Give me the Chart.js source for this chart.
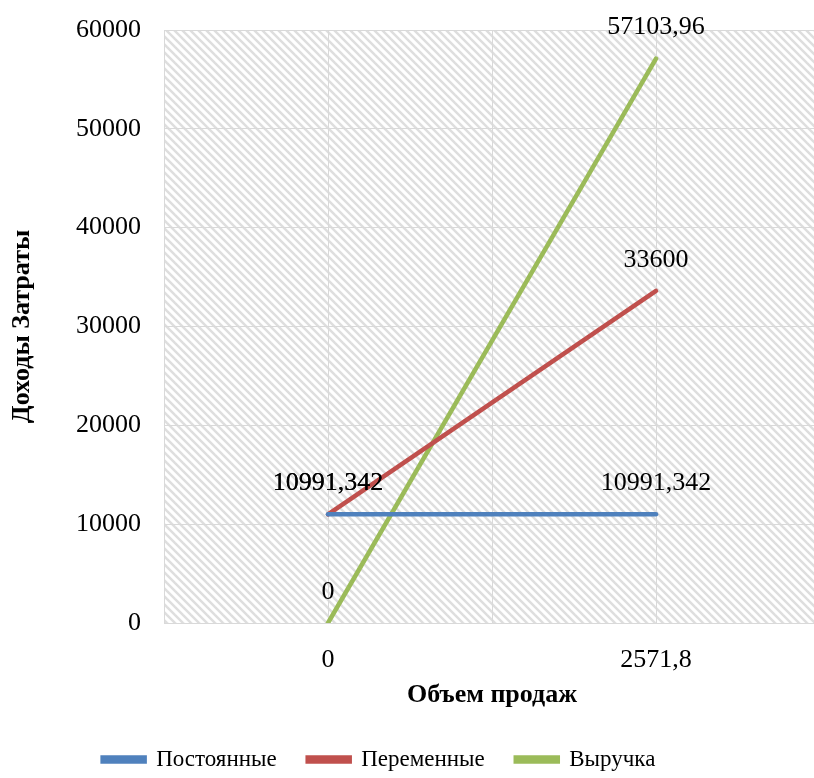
<!DOCTYPE html>
<html>
<head>
<meta charset="utf-8">
<script src="https://cdn.jsdelivr.net/npm/chart.js@4.4.1/dist/chart.umd.min.js"></script>
<style>
  html, body { margin: 0; padding: 0; background: #fff; overflow: hidden; }
  #wrap { width: 814px; height: 778px; overflow: hidden; }
</style>
</head>
<body>
<div id="wrap"><canvas id="c" width="820" height="778"></canvas></div>
<script>
// Break-even data: sales volume vs. costs and revenue
const salesVolume   = [0, 2571.8];
const fixedCosts    = [10991.342, 10991.342];
const variableCosts = [10991.342, 33600];
const revenue       = [0, 57103.96];

const seriesNames  = ['Постоянные', 'Переменные', 'Выручка'];
const seriesColors = ['#4f81bd', '#c0504d', '#9bbb59'];

const xTickValues = [-1285.9, 0, 1285.9, 2571.8, 3857.7];
const xTickLabels = ['', '0', '', '2571,8', ''];
const yTickValues = [0, 10000, 20000, 30000, 40000, 50000, 60000];

const FONT = "'Liberation Serif', 'Times New Roman', serif";

const toPoints = ys => salesVolume.map((x, i) => ({ x: x, y: ys[i] }));
const fmt = v => String(v).replace('.', ',');

// Diagonal hatch fill for the plot area
function makeHatch() {
  const t = document.createElement('canvas');
  t.width = 8; t.height = 8;
  const g = t.getContext('2d');
  g.fillStyle = '#ffffff';
  g.fillRect(0, 0, 8, 8);
  g.strokeStyle = '#dedede';
  g.lineWidth = 2.5;
  for (const a of [-8, 0, 8]) {
    g.beginPath();
    g.moveTo(a - 1, -1);
    g.lineTo(a + 9, 9);
    g.stroke();
  }
  return t;
}

const hatchPlugin = {
  id: 'hatch',
  beforeDraw(chart) {
    const { ctx, chartArea: a } = chart;
    ctx.save();
    ctx.fillStyle = ctx.createPattern(makeHatch(), 'repeat');
    ctx.fillRect(a.left, a.top, a.right - a.left, a.bottom - a.top);
    ctx.restore();
  }
};

// Nudge the legend row slightly left of the canvas centre and a bit lower
const legendShift = {
  id: 'legendShift',
  afterLayout(chart) {
    if (chart.legend) {
      chart.legend.left -= 31;
      chart.legend.right -= 31;
      chart.legend.top += 3;
      chart.legend.bottom += 3;
    }
  }
};

// Value labels above every point
const valueLabels = {
  id: 'valueLabels',
  afterDatasetsDraw(chart) {
    const ctx = chart.ctx;
    ctx.save();
    ctx.font = '26px ' + FONT;
    ctx.fillStyle = '#000';
    ctx.textAlign = 'center';
    ctx.textBaseline = 'middle';
    chart.data.datasets.forEach((ds, di) => {
      chart.getDatasetMeta(di).data.forEach((pt, i) => {
        ctx.fillText(fmt(ds.data[i].y), pt.x, pt.y - 31);
      });
    });
    ctx.restore();
  }
};

const datasets = [fixedCosts, variableCosts, revenue].map((ys, i) => ({
  label: seriesNames[i],
  data: toPoints(ys),
  borderColor: seriesColors[i],
  backgroundColor: seriesColors[i],
  borderWidth: 4.5,
  borderCapStyle: 'round',
  pointRadius: 0,
  showLine: true,
  tension: 0
}));

new Chart(document.getElementById('c'), {
  type: 'scatter',
  data: { datasets },
  plugins: [hatchPlugin, legendShift, valueLabels],
  options: {
    responsive: false,
    animation: false,
    events: [],
    layout: { padding: { top: 30, right: 0, bottom: 0, left: 0 } },
    plugins: {
      tooltip: { enabled: false },
      legend: {
        position: 'bottom',
        labels: {
          font: { family: FONT, size: 23 },
          color: '#000',
          boxWidth: 42,
          boxHeight: 4,
          padding: 31
        }
      }
    },
    scales: {
      x: {
        type: 'linear',
        min: -1285.9,
        max: 3857.7,
        afterBuildTicks: s => { s.ticks = xTickValues.map(v => ({ value: v })); },
        afterFit: s => {
          s.height = 91;
          s.paddingLeft = 0; s.paddingRight = 0;
        },
        grid: { color: '#d9d9d9', lineWidth: 1, drawTicks: false },
        border: { color: '#d9d9d9' },
        ticks: {
          padding: 22,
          color: '#000',
          font: { family: FONT, size: 26 },
          maxRotation: 0,
          autoSkip: false,
          callback: (v, i) => xTickLabels[i]
        },
        title: {
          display: true,
          text: 'Объем продаж',
          color: '#000',
          font: { family: FONT, size: 26, weight: 'bold' },
          padding: { top: 8, bottom: 3 }
        }
      },
      y: {
        min: 0,
        max: 60000,
        afterBuildTicks: s => { s.ticks = yTickValues.map(v => ({ value: v })); },
        afterFit: s => {
          s.width = 164;
          s.paddingTop = 0; s.paddingBottom = 0;
        },
        grid: { color: '#d9d9d9', lineWidth: 1, drawTicks: false },
        border: { color: '#d9d9d9' },
        ticks: {
          padding: 23,
          color: '#000',
          font: { family: FONT, size: 26 },
          callback: v => String(v)
        },
        title: {
          display: true,
          text: 'Доходы Затраты',
          color: '#000',
          font: { family: FONT, size: 26, weight: 'bold' },
          padding: { top: 7, bottom: 0 }
        }
      }
    }
  }
});
</script>
</body>
</html>
